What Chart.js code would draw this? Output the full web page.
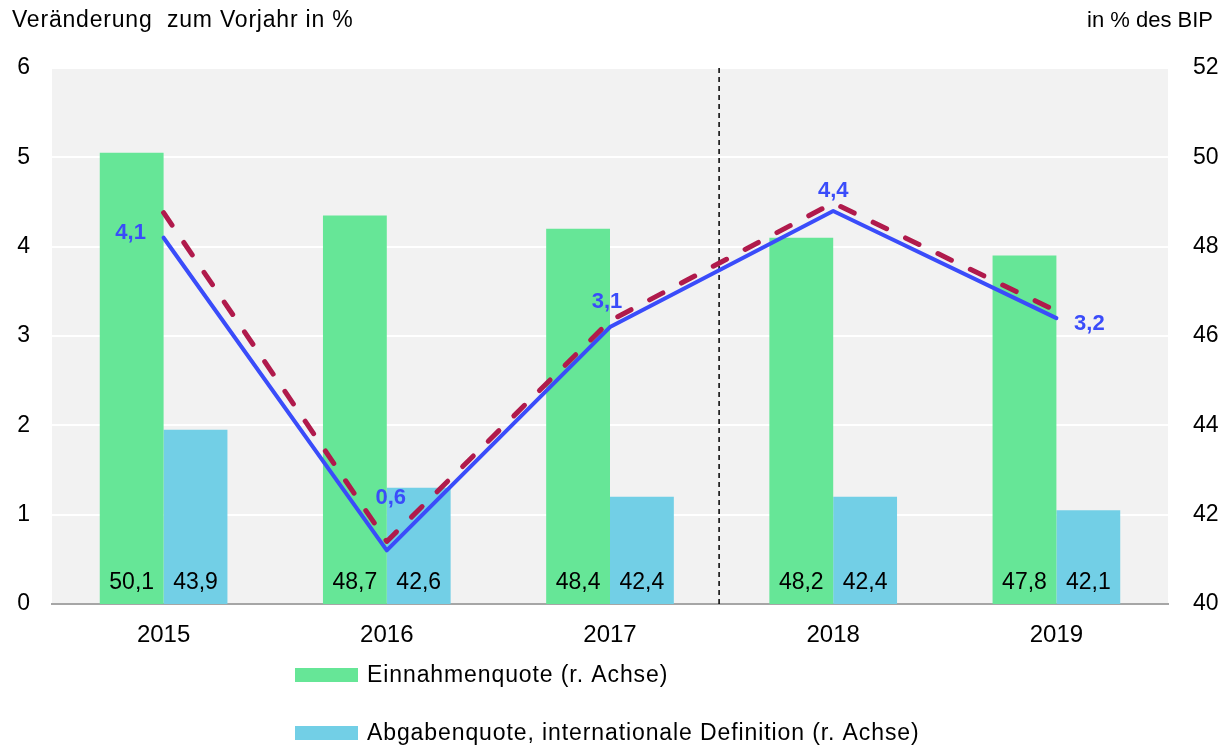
<!DOCTYPE html>
<html lang="de">
<head>
<meta charset="utf-8">
<title>Einnahmen- und Abgabenquote</title>
<script src="https://cdn.jsdelivr.net/npm/chart.js@4.4.1/dist/chart.umd.min.js"></script>
<style>
  html, body { margin: 0; padding: 0; background: #ffffff; }
  #wrap { width: 1221px; height: 747px; }
</style>
</head>
<body>
<div id="wrap"><canvas id="chart" width="1221" height="747"></canvas></div>
<script>
// Jahre
const years = ['2015', '2016', '2017', '2018', '2019'];

// Quoten in % des BIP (rechte Achse)
const einnahmenquote = [50.1, 48.7, 48.4, 48.2, 47.8];
const abgabenquote = [43.9, 42.6, 42.4, 42.4, 42.1];

// Veränderung zum Vorjahr in % (linke Achse)
const veraenderungAbgaben = [4.1, 0.6, 3.1, 4.4, 3.2];
const veraenderungEinnahmen = [4.38, 0.7, 3.17, 4.49, 3.28];

// Achsenbeschriftungen
const leftTicks = [0, 1, 2, 3, 4, 5, 6];
const rightTicks = [40, 42, 44, 46, 48, 50, 52];

const FONT = '"Liberation Sans", Arial, sans-serif';
const GREEN = '#66e697';
const CYAN = '#72cfe6';
const BLUE = '#3a4cfa';
const RED = '#b01a4c';

const fmt = v => v.toFixed(1).replace('.', ',');

// Label placement for the blue series (dx, dy from the point, px)
const lineLabelOffsets = [[-33, -5], [4, -52], [-3, -25], [0, -20], [33, 6]];

const plotBackground = {
  id: 'plotBackground',
  beforeDraw(chart) {
    const { ctx, chartArea: a } = chart;
    ctx.save();
    ctx.fillStyle = '#f2f2f2';
    ctx.fillRect(a.left, a.top, a.right - a.left, a.bottom - a.top);
    ctx.restore();
  }
};

const forecastDivider = {
  id: 'forecastDivider',
  beforeDatasetsDraw(chart) {
    const { ctx, chartArea: a, scales } = chart;
    const x = (scales.x.getPixelForValue(2) + scales.x.getPixelForValue(3)) / 2 - 2.5;
    ctx.save();
    ctx.strokeStyle = '#000000';
    ctx.lineWidth = 1.5;
    ctx.setLineDash([5, 4]);
    ctx.beginPath();
    ctx.moveTo(x, a.top);
    ctx.lineTo(x, a.bottom);
    ctx.stroke();
    ctx.restore();
  }
};

const valueLabels = {
  id: 'valueLabels',
  afterDatasetsDraw(chart) {
    const { ctx, chartArea: a } = chart;
    ctx.save();
    ctx.textAlign = 'center';
    ctx.textBaseline = 'middle';
    // bar values near the base
    ctx.font = '23px ' + FONT;
    ctx.fillStyle = '#000000';
    [0, 1].forEach(di => {
      const meta = chart.getDatasetMeta(di);
      meta.data.forEach((bar, i) => {
        ctx.fillText(fmt(chart.data.datasets[di].data[i]), bar.x, a.bottom - 21);
      });
    });
    // values of the blue line
    ctx.font = 'bold 22px ' + FONT;
    ctx.fillStyle = BLUE;
    const meta = chart.getDatasetMeta(2);
    meta.data.forEach((pt, i) => {
      const [dx, dy] = lineLabelOffsets[i];
      ctx.fillText(fmt(veraenderungAbgaben[i]), pt.x + dx, pt.y + dy);
    });
    ctx.restore();
  }
};

const titlesAndLegend = {
  id: 'titlesAndLegend',
  afterDraw(chart) {
    const { ctx, width } = chart;
    ctx.save();
    ctx.font = '23px ' + FONT;
    ctx.fillStyle = '#000000';
    ctx.textBaseline = 'middle';
    ctx.textAlign = 'left';
    ctx.letterSpacing = '0.8px';
    ctx.fillText('Veränderung  zum Vorjahr in %', 12, 21);
    ctx.textAlign = 'right';
    ctx.font = '22px ' + FONT;
    ctx.letterSpacing = '0px';
    ctx.fillText('in % des BIP', width - 8, 21);
    // legend for the bar series, stacked vertically
    ctx.font = '23px ' + FONT;
    ctx.letterSpacing = '0.9px';
    ctx.textAlign = 'left';
    [0, 1].forEach((di, k) => {
      const ds = chart.data.datasets[di];
      const cy = 675 + k * 58;
      ctx.fillStyle = ds.backgroundColor;
      ctx.fillRect(295, cy - 7, 63, 14);
      ctx.fillStyle = '#000000';
      ctx.fillText(ds.label, 367, cy + 1);
    });
    ctx.restore();
  }
};

new Chart(document.getElementById('chart'), {
  data: {
    labels: years,
    datasets: [
      {
        type: 'bar',
        label: 'Einnahmenquote (r. Achse)',
        data: einnahmenquote,
        yAxisID: 'y2',
        backgroundColor: GREEN,
        borderWidth: 0,
        categoryPercentage: 0.572,
        barPercentage: 1.0,
        order: 2
      },
      {
        type: 'bar',
        label: 'Abgabenquote, internationale Definition (r. Achse)',
        data: abgabenquote,
        yAxisID: 'y2',
        backgroundColor: CYAN,
        borderWidth: 0,
        categoryPercentage: 0.572,
        barPercentage: 1.0,
        order: 3
      },
      {
        type: 'line',
        label: 'Abgaben, Veränderung',
        data: veraenderungAbgaben,
        yAxisID: 'y',
        borderColor: BLUE,
        borderWidth: 4,
        borderCapStyle: 'round',
        borderJoinStyle: 'round',
        pointRadius: 0,
        tension: 0,
        fill: false,
        order: 1
      },
      {
        type: 'line',
        label: 'Einnahmen, Veränderung',
        data: veraenderungEinnahmen,
        yAxisID: 'y',
        borderColor: RED,
        borderWidth: 5,
        borderDash: [15, 21],
        borderCapStyle: 'round',
        borderJoinStyle: 'round',
        pointRadius: 0,
        tension: 0,
        fill: false,
        order: 0
      }
    ]
  },
  options: {
    responsive: false,
    animation: false,
    events: [],
    layout: { padding: { top: 68, left: 0, right: 0, bottom: 0 } },
    plugins: {
      legend: { display: false },
      tooltip: { enabled: false },
      title: { display: false }
    },
    scales: {
      x: {
        grid: { display: false, drawTicks: false },
        border: { display: true, color: '#a6a6a6', width: 2 },
        ticks: { color: '#000000', font: { family: FONT, size: 24 }, padding: 17 },
        afterFit(s) { s.height = 143; }
      },
      y: {
        position: 'left',
        min: leftTicks[0],
        max: leftTicks[leftTicks.length - 1],
        afterBuildTicks(s) { s.ticks = leftTicks.map(v => ({ value: v })); },
        grid: { color: '#ffffff', lineWidth: 2, drawTicks: false },
        border: { display: false },
        ticks: { color: '#000000', font: { family: FONT, size: 23 }, padding: 22 },
        afterFit(s) { s.width = 52; }
      },
      y2: {
        position: 'right',
        min: rightTicks[0],
        max: rightTicks[rightTicks.length - 1],
        afterBuildTicks(s) { s.ticks = rightTicks.map(v => ({ value: v })); },
        grid: { display: false, drawTicks: false },
        border: { display: false },
        ticks: { color: '#000000', font: { family: FONT, size: 23 }, padding: 25 },
        afterFit(s) { s.width = 53; }
      }
    }
  },
  plugins: [plotBackground, forecastDivider, valueLabels, titlesAndLegend]
});
</script>
</body>
</html>
